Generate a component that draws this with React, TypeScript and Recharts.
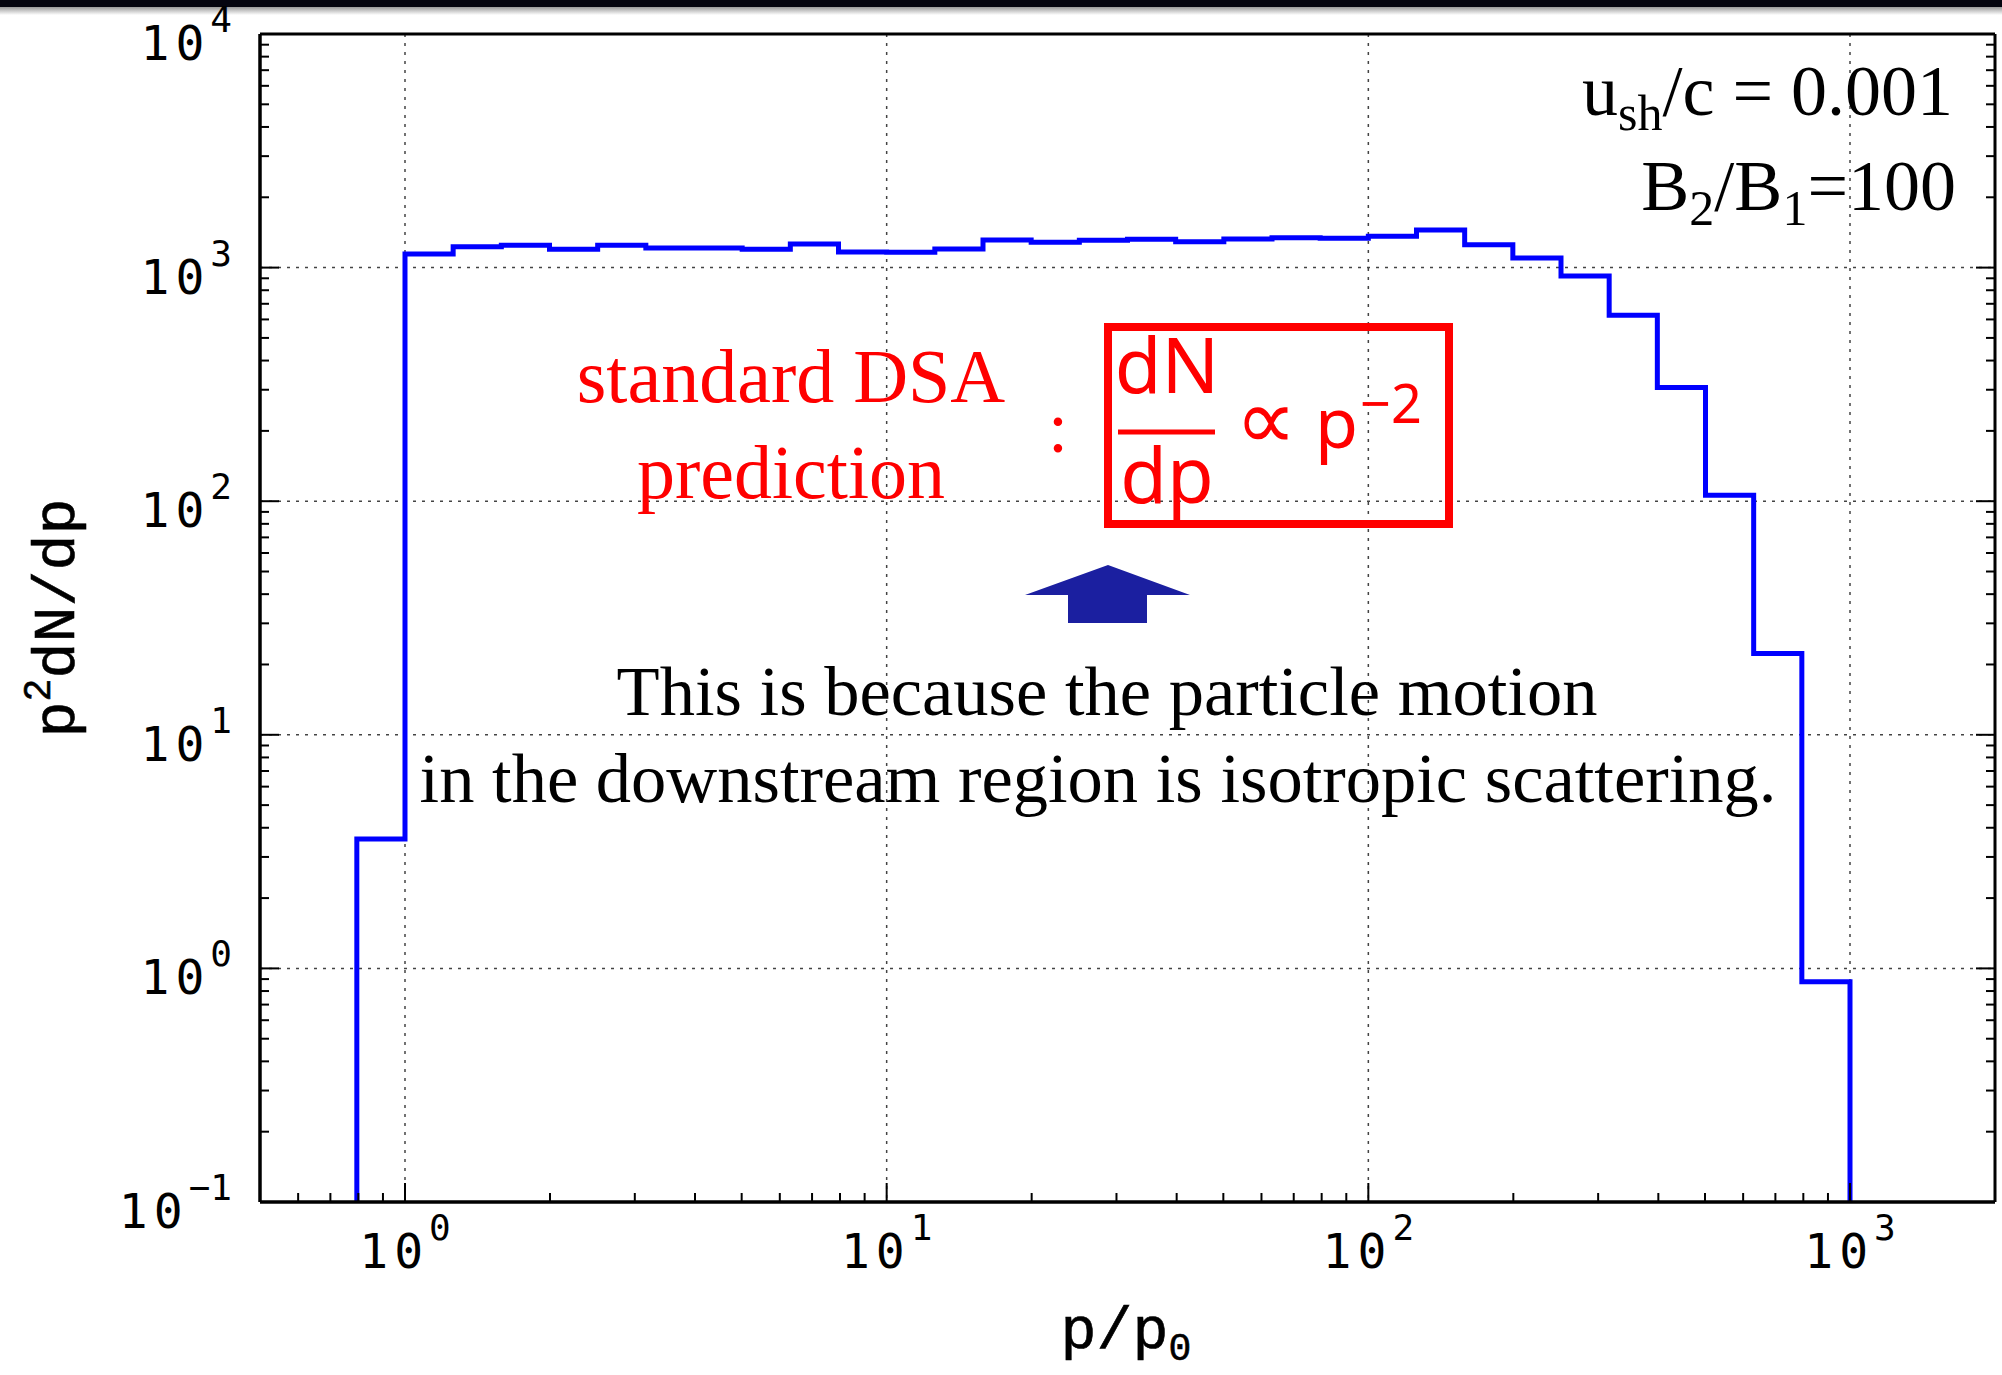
import { LineChart, Line, XAxis, YAxis, CartesianGrid } from 'recharts'

// p/p0 bin edges (0.1 decade wide) and p^2 dN/dp per bin
const BIN_EDGES = [
  0.7943, 1, 1.2589, 1.5849, 1.9953, 2.5119, 3.1623, 3.9811, 5.0119, 6.3096, 7.9433,
  10, 12.589, 15.849, 19.953, 25.119, 31.623, 39.811, 50.119, 63.096, 79.433,
  100, 125.89, 158.49, 199.53, 251.19, 316.23, 398.11, 501.19, 630.96, 794.33, 1000,
]
const BIN_VALUES = [
  3.58, 1143, 1229, 1247, 1199, 1247, 1213, 1213, 1199, 1262, 1166,
  1163, 1201, 1313, 1283, 1310, 1322, 1291, 1326, 1343, 1335,
  1361, 1449, 1253, 1099, 920, 625, 307, 106, 22.3, 0.877,
]
const FLOOR = 0.1

const X_MAJOR = [1, 10, 100, 1000]
const X_EXP = ['0', '1', '2', '3']
const X_MINOR = [
  0.6, 0.7, 0.8, 0.9, 2, 3, 4, 5, 6, 7, 8, 9, 20, 30, 40, 50, 60, 70, 80, 90,
  200, 300, 400, 500, 600, 700, 800, 900,
]
const Y_MAJOR = [0.1, 1, 10, 100, 1000, 10000]
const Y_EXP = ['\u22121', '0', '1', '2', '3', '4']
const Y_MINOR = [
  0.2, 0.3, 0.4, 0.5, 0.6, 0.7, 0.8, 0.9, 2, 3, 4, 5, 6, 7, 8, 9,
  20, 30, 40, 50, 60, 70, 80, 90, 200, 300, 400, 500, 600, 700, 800, 900,
  2000, 3000, 4000, 5000, 6000, 7000, 8000, 9000,
]

const X_TICKS = [...X_MAJOR, ...X_MINOR].sort((a, b) => a - b)
const Y_TICKS = [...Y_MAJOR, ...Y_MINOR].sort((a, b) => a - b)

// turn the bins into stepAfter points, closing down to the floor at both ends
const stepData = [
  { p: BIN_EDGES[0], v: FLOOR },
  ...BIN_VALUES.map((v, i) => ({ p: BIN_EDGES[i], v })),
  { p: BIN_EDGES[BIN_EDGES.length - 1], v: BIN_VALUES[BIN_VALUES.length - 1] },
  { p: BIN_EDGES[BIN_EDGES.length - 1], v: FLOOR },
]

const TICK_FONT = '"DejaVu Sans Mono", monospace'
const LABEL_FONT = '"Liberation Mono", monospace'
const SERIF = '"Liberation Serif", serif'
const SANS = '"Noto Sans", "DejaVu Sans", sans-serif'
const MAJOR_LEN = 19
const MINOR_LEN = 9

function BottomTick(props: any) {
  const { x, y, payload } = props
  const idx = X_MAJOR.indexOf(payload.value)
  return (
    <g>
      <line x1={x} y1={y} x2={x} y2={y - (idx >= 0 ? MAJOR_LEN : MINOR_LEN)} stroke="#000" strokeWidth={2} />
      {idx >= 0 && (
        <text x={x} y={y + 66} textAnchor="middle" fontFamily={TICK_FONT} fontSize={48} fill="#000" letterSpacing={6}>
          10<tspan dy={-28} fontSize={36} letterSpacing={0}>{X_EXP[idx]}</tspan>
        </text>
      )}
    </g>
  )
}

function TopTick(props: any) {
  const { x, y, payload } = props
  const major = X_MAJOR.includes(payload.value)
  return <line x1={x} y1={y} x2={x} y2={y + (major ? MAJOR_LEN : MINOR_LEN)} stroke="#000" strokeWidth={2} />
}

function LeftTick(props: any) {
  const { x, y, payload } = props
  const idx = Y_MAJOR.indexOf(payload.value)
  return (
    <g>
      <line x1={x} y1={y} x2={x + (idx >= 0 ? MAJOR_LEN : MINOR_LEN)} y2={y} stroke="#000" strokeWidth={2} />
      {idx >= 0 && (
        <text x={x - 28} y={y + 26} textAnchor="end" fontFamily={TICK_FONT} fontSize={48} fill="#000" letterSpacing={6}>
          10<tspan dy={-28} fontSize={36} letterSpacing={0}>{Y_EXP[idx]}</tspan>
        </text>
      )}
    </g>
  )
}

function RightTick(props: any) {
  const { x, y, payload } = props
  const major = Y_MAJOR.includes(payload.value)
  return <line x1={x} y1={y} x2={x - (major ? MAJOR_LEN : MINOR_LEN)} y2={y} stroke="#000" strokeWidth={2} />
}

function Annotations() {
  return (
    <svg width={2002} height={1375} style={{ position: 'absolute', left: 0, top: 0, pointerEvents: 'none' }}>
      {/* axis titles */}
      <text x={1126} y={1348} textAnchor="middle" fontFamily={LABEL_FONT} fontSize={60} fill="#000" stroke="#000" strokeWidth={0.6}>
        p/p<tspan dy={12} fontSize={38}>0</tspan>
      </text>
      <text x={74} y={618} transform="rotate(-90, 74, 618)" textAnchor="middle" fontFamily={LABEL_FONT} fontSize={60} fill="#000" stroke="#000" strokeWidth={0.6}>
        p<tspan dy={-24} fontSize={38}>2</tspan><tspan dy={24}>dN/dp</tspan>
      </text>

      {/* parameters */}
      <text x={1953} y={115} textAnchor="end" fontFamily={SERIF} fontSize={72} fill="#000">
        u<tspan dy={15} fontSize={50}>sh</tspan><tspan dy={-15}>/c = 0.001</tspan>
      </text>
      <text x={1956} y={210} textAnchor="end" fontFamily={SERIF} fontSize={72} fill="#000">
        B<tspan dy={15} fontSize={50}>2</tspan><tspan dy={-15}>/B</tspan><tspan dy={15} fontSize={50}>1</tspan><tspan dy={-15}>=100</tspan>
      </text>

      {/* DSA prediction */}
      <text x={791} y={402} textAnchor="middle" fontFamily={SERIF} fontSize={76} fill="#ff0000">standard DSA</text>
      <text x={791} y={498} textAnchor="middle" fontFamily={SERIF} fontSize={76} fill="#ff0000">prediction</text>
      <text x={1058} y={452} textAnchor="middle" fontFamily={SERIF} fontSize={72} fill="#ff0000">:</text>
      <rect x={1108} y={327} width={341} height={197} fill="none" stroke="#ff0000" strokeWidth={8} />
      <text x={1167} y={393} textAnchor="middle" fontFamily={SANS} fontSize={76} fill="#ff0000">dN</text>
      <line x1={1118} y1={432} x2={1215} y2={432} stroke="#ff0000" strokeWidth={5} />
      <text x={1167} y={503} textAnchor="middle" fontFamily={SANS} fontSize={76} fill="#ff0000">dp</text>
      <text x={1266} y={449} textAnchor="middle" fontFamily='"DejaVu Sans", sans-serif' fontSize={86} fill="#ff0000">∝</text>
      <text x={1315} y={448} fontFamily={SANS} fontSize={70} fill="#ff0000">p</text>
      <text x={1360} y={423} fontFamily={SANS} fontSize={54} fill="#ff0000">−2</text>

      {/* arrow */}
      <polygon points="1108,565 1190,595 1147,595 1147,623 1068,623 1068,595 1025,595" fill="#1b1fa0" />

      <text x={1107} y={715} textAnchor="middle" fontFamily={SERIF} fontSize={70.5} fill="#000">
        This is because the particle motion
      </text>
      <text x={1098} y={802} textAnchor="middle" fontFamily={SERIF} fontSize={70.5} fill="#000">
        in the downstream region is isotropic scattering.
      </text>
    </svg>
  )
}

export default function App() {
  return (
    <div style={{ position: 'absolute', left: 0, top: 0, width: 2002, height: 1375, background: '#fff' }}>
      <div style={{ position: 'absolute', left: 0, top: 0, width: 2002, height: 7, background: '#05050f' }} />
      <div style={{ position: 'absolute', left: 0, top: 7, width: 2002, height: 8, background: 'linear-gradient(#9a9a9a, #ffffff)' }} />
      <LineChart
        width={2002}
        height={1375}
        data={stepData}
        margin={{ top: 33, right: 6, bottom: 113, left: 200 }}
        style={{ position: 'absolute', left: 0, top: 0 }}
      >
        <CartesianGrid
          xAxisId="b"
          yAxisId="l"
          horizontalValues={[1, 10, 100, 1000]}
          verticalValues={[1, 10, 100, 1000]}
          stroke="#444"
          strokeWidth={1.5}
          strokeDasharray="3 6"
        />
        <XAxis
          xAxisId="b"
          dataKey="p"
          type="number"
          scale="log"
          domain={[0.5, 2000]}
          allowDataOverflow
          ticks={X_TICKS}
          interval={0}
          height={60}
          tickSize={0}
          tickMargin={0}
          tickLine={false}
          axisLine={{ stroke: '#000', strokeWidth: 3.5 }}
          tick={<BottomTick />}
        />
        <XAxis
          xAxisId="t"
          orientation="top"
          type="number"
          scale="log"
          domain={[0.5, 2000]}
          allowDataOverflow
          ticks={X_TICKS}
          interval={0}
          height={1}
          tickSize={0}
          tickMargin={0}
          tickLine={false}
          axisLine={{ stroke: '#000', strokeWidth: 3 }}
          tick={<TopTick />}
        />
        <YAxis
          yAxisId="l"
          type="number"
          scale="log"
          domain={[0.1, 10000]}
          allowDataOverflow
          ticks={Y_TICKS}
          interval={0}
          width={60}
          tickSize={0}
          tickMargin={0}
          tickLine={false}
          axisLine={{ stroke: '#000', strokeWidth: 3.5 }}
          tick={<LeftTick />}
        />
        <YAxis
          yAxisId="r"
          orientation="right"
          type="number"
          scale="log"
          domain={[0.1, 10000]}
          allowDataOverflow
          ticks={Y_TICKS}
          interval={0}
          width={1}
          tickSize={0}
          tickMargin={0}
          tickLine={false}
          axisLine={{ stroke: '#000', strokeWidth: 3 }}
          tick={<RightTick />}
        />
        <Line
          xAxisId="b"
          yAxisId="l"
          dataKey="v"
          type="stepAfter"
          stroke="#0000ff"
          strokeWidth={5}
          dot={false}
          isAnimationActive={false}
        />
      </LineChart>
      <Annotations />
    </div>
  )
}
